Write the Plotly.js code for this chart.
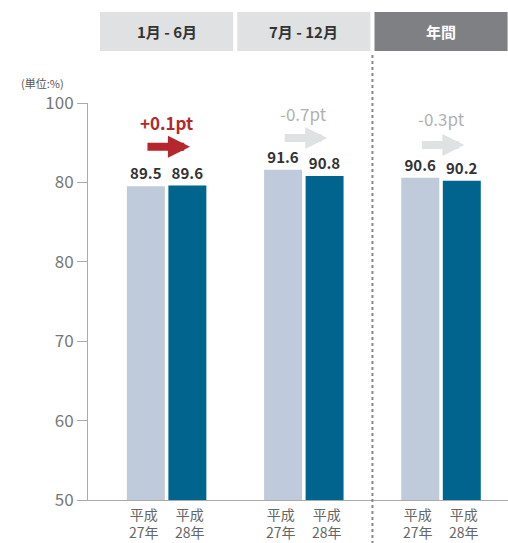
<!DOCTYPE html>
<html><head><meta charset="utf-8">
<script src="https://cdn.plot.ly/plotly-3.0.1.min.js"></script>
<style>html,body{margin:0;padding:0;background:#fff}#c{width:508px;height:543px}</style>
</head><body><div id="c"></div>
<script>
const categories = ["1月 - 6月", "7月 - 12月", "年間"];
const seriesNames = ["平成<br>27年", "平成<br>28年"];
const h27 = [89.5, 91.6, 90.6];
const h28 = [89.6, 90.8, 90.2];
const diffs = ["+0.1pt", "-0.7pt", "-0.3pt"];
const yTickVals = [50, 60, 70, 80, 90, 100];
const yTickText = ["50", "60", "70", "80", "80", "100"];
const unitLabel = "(単位:%)";

const FONT = "Noto Sans CJK JP, Noto Sans, sans-serif";
const idx = categories.map((c, i) => i);

const traces = [
  {type: "bar", x: idx, y: h27, name: "平成27年", marker: {color: "#bfcadb"},
   text: h27.map(v => "<b>" + v.toFixed(1) + "</b>"), textposition: "outside",
   textfont: {size: 15, color: "#333", family: FONT}, cliponaxis: false, hoverinfo: "none"},
  {type: "bar", x: idx, y: h28, name: "平成28年", marker: {color: "#00658e"},
   text: h28.map(v => "<b>" + v.toFixed(1) + "</b>"), textposition: "outside",
   textfont: {size: 15, color: "#333", family: FONT}, cliponaxis: false, hoverinfo: "none"}
];

const annotations = [];
const shapes = [];
const headerFill = ["#dfe1e2", "#dfe1e2", "#7f8083"];
const headerColor = ["#333", "#333", "#fff"];
categories.forEach((c, i) => {
  shapes.push({type: "rect", xref: "x", yref: "paper", x0: i - 0.485, x1: i + 0.485,
    y0: 1.131, y1: 1.229, fillcolor: headerFill[i], line: {width: 0}, layer: "below"});
  annotations.push({xref: "x", yref: "paper", x: i, y: 1.18, yanchor: "middle", xanchor: "center",
    text: "<b>" + c + "</b>", showarrow: false,
    font: {size: 15, color: headerColor[i], family: FONT}});
  [-23, 23].forEach((s, k) => {
    annotations.push({xref: "x", yref: "paper", x: i, xshift: s, y: -0.004, yanchor: "top",
      xanchor: "center", text: seriesNames[k], showarrow: false,
      font: {size: 14, color: "#666", family: FONT}, align: "center"});
  });
});
// difference labels and arrows
const diffColor = ["#b5272d", "#aeb1b3", "#aeb1b3"];
const arrowColor = ["#b5272d", "#dfe2e3", "#dfe2e3"];
const labelY = [97.6, 98.7, 98.0];
const arrowY = [94.5, 95.6, 94.7];
diffs.forEach((d, i) => {
  annotations.push({xref: "x", yref: "y", x: i, y: labelY[i], yanchor: "middle",
    text: i === 0 ? "<b>" + d + "</b>" : d, showarrow: false,
    font: {size: 17, color: diffColor[i], family: FONT}});
  annotations.push({xref: "x", yref: "y", x: i + 0.17, y: arrowY[i], ax: -44, ay: 0,
    text: "", showarrow: true, arrowhead: 2, arrowsize: 0.55, arrowwidth: 8,
    arrowcolor: arrowColor[i], standoff: 0});
});
annotations.push({xref: "paper", yref: "paper", x: -0.165, y: 1.05, xanchor: "left",
  yanchor: "middle", text: unitLabel, showarrow: false,
  font: {size: 11, color: "#555", family: FONT}});

shapes.push({type: "line", xref: "x", yref: "paper", x0: 1.5, x1: 1.5, y0: 1.121, y1: -0.11,
  line: {color: "#888", width: 2, dash: "dot"}});

const layout = {
  width: 508, height: 543,
  margin: {l: 88, r: 0, t: 103, b: 43, pad: 0},
  paper_bgcolor: "#fff", plot_bgcolor: "#fff",
  showlegend: false, barmode: "group", bargap: 0.395, bargroupgap: 0.085,
  xaxis: {range: [-0.573, 2.488], showticklabels: false, ticks: "", showgrid: false,
    zeroline: false, showline: true, linecolor: "#aaa", linewidth: 1, fixedrange: true},
  yaxis: {range: [50, 100], tickvals: yTickVals, ticktext: yTickText, ticks: "outside",
    ticklen: 10, tickcolor: "#aaa", showline: true, linecolor: "#aaa", linewidth: 1,
    showgrid: false, zeroline: false, tickfont: {size: 17, color: "#777", family: FONT},
    fixedrange: true},
  annotations: annotations, shapes: shapes,
  font: {family: FONT}
};
Plotly.newPlot("c", traces, layout, {displayModeBar: false, staticPlot: true});
</script></body></html>
